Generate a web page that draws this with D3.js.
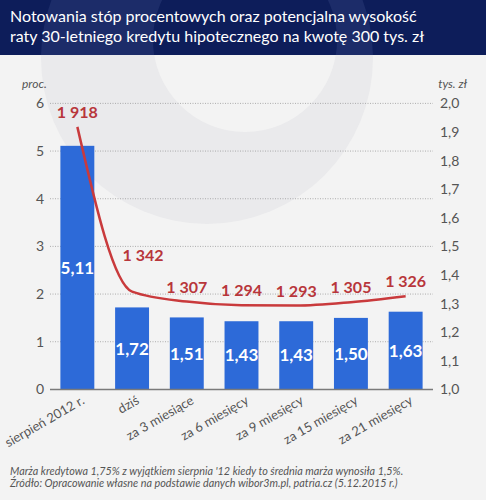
<!DOCTYPE html>
<html><head><meta charset="utf-8">
<script src="https://cdn.jsdelivr.net/npm/d3@7"></script>
<style>
body{margin:0;padding:0;background:#f3f3f3;}
svg{display:block;font-family:Lato, "Open Sans", sans-serif;}
</style></head>
<body>
<svg id="chart" width="486" height="500"></svg>
<script>
const categories = ["sierpień 2012 r.","dziś","za 3 miesiące","za 6 miesięcy","za 9 miesięcy","za 15 miesięcy","za 21 miesięcy"];
const rates = [5.11,1.72,1.51,1.43,1.43,1.50,1.63];
const rateLabels = ["5,11","1,72","1,51","1,43","1,43","1,50","1,63"];
const installments = [1918,1342,1307,1294,1293,1305,1326];
const installmentLabels = ["1 918","1 342","1 307","1 294","1 293","1 305","1 326"];
const leftTicks = [0,1,2,3,4,5,6];
const rightTicks = [1.0,1.1,1.2,1.3,1.4,1.5,1.6,1.7,1.8,1.9,2.0];
const titleLines = ["Notowania stóp procentowych oraz potencjalna wysokość","raty 30-letniego kredytu hipotecznego na kwotę 300 tys. zł"];
const notes = ["Marża kredytowa 1,75% z wyjątkiem sierpnia '12 kiedy to średnia marża wynosiła 1,5%.","Źródło: Opracowanie własne na podstawie danych wibor3m.pl, patria.cz (5.12.2015 r.)"];

(function(){
const svg = d3.select("#chart");
const W = 486, H = 500;
svg.append("rect").attr("width",W).attr("height",H).attr("fill","#f3f3f3");

// faint watermark
const wm = svg.append("g");
wm.append("circle").attr("cx",207).attr("cy",58).attr("r",166).attr("fill","#eaeaec");
wm.append("circle").attr("cx",245).attr("cy",40).attr("r",92).attr("fill","#f3f3f3");

// header
svg.append("rect").attr("width",W).attr("height",55).attr("fill","#0d1d5a");
svg.append("clipPath").attr("id","hc").append("rect").attr("width",W).attr("height",55);
const hw = svg.append("g").attr("clip-path","url(#hc)");
hw.append("circle").attr("cx",207).attr("cy",58).attr("r",166).attr("fill","#1c2c69");
hw.append("circle").attr("cx",245).attr("cy",40).attr("r",92).attr("fill","#0d1d5a");
svg.append("g").selectAll("text").data(titleLines).join("text")
  .attr("x",10).attr("y",(d,i)=>22+i*20)
  .attr("fill","#ffffff").attr("font-size",16).text(d=>d);

const pL = 50, pR = 433, pT = 103.4, pB = 389.4;
const x = d3.scaleBand().domain(categories).range([pL,pR]).paddingInner(0.38).paddingOuter(0.19);
const yL = d3.scaleLinear().domain([0,6]).range([pB,pT]);
const yR = d3.scaleLinear().domain([1.0,2.0]).range([pB,pT]);

// gridlines
svg.append("g").selectAll("line").data(leftTicks.filter(d=>d>0)).join("line")
  .attr("x1",pL).attr("x2",pR).attr("y1",d=>yL(d)).attr("y2",d=>yL(d))
  .attr("stroke","#9a9a9a").attr("stroke-width",0.8).attr("stroke-dasharray","1,1.5");

// left axis
const gL = svg.append("g").attr("transform",`translate(${pL},0)`)
  .call(d3.axisLeft(yL).tickValues(leftTicks).tickSize(0).tickPadding(6).tickFormat(d3.format("d")));
gL.select(".domain").remove();
gL.selectAll("text").attr("font-size",14).attr("fill","#555").attr("font-family","Lato");

// right axis
const gR = svg.append("g").attr("transform",`translate(${pR},0)`)
  .call(d3.axisRight(yR).tickValues(rightTicks).tickSize(0).tickPadding(7).tickFormat(d=>d3.format(".1f")(d).replace(".",",")));
gR.select(".domain").remove();
gR.selectAll("text").attr("font-size",14).attr("fill","#555").attr("font-family","Lato");

// axis unit labels
svg.append("text").attr("x",22).attr("y",88).attr("font-size",12).attr("font-style","italic").attr("fill","#555").text("proc.");
svg.append("text").attr("x",467).attr("y",88).attr("text-anchor","end").attr("font-size",12).attr("font-style","italic").attr("fill","#555").text("tys. zł");

// bars
svg.append("g").selectAll("rect").data(rates).join("rect")
  .attr("x",(d,i)=>x(categories[i])).attr("width",x.bandwidth())
  .attr("y",d=>yL(d)).attr("height",d=>yL(0)-yL(d))
  .attr("fill","#2d6ad8");

// baseline
svg.append("line").attr("x1",pL).attr("x2",pR).attr("y1",yL(0)).attr("y2",yL(0))
  .attr("stroke","#7a7a7a").attr("stroke-width",1.5);

// bar labels
svg.append("g").selectAll("text").data(rates).join("text")
  .attr("x",(d,i)=>x(categories[i])+x.bandwidth()/2)
  .attr("y",d=>yL(d/2)).attr("dy","0.36em")
  .attr("text-anchor","middle").attr("fill","#fff").attr("font-weight","bold").attr("font-size",17)
  .text((d,i)=>rateLabels[i]);

// line
const line = d3.line().x((d,i)=>x(categories[i])+x.bandwidth()/2).y(d=>yR(d/1000)).curve(d3.curveMonotoneX);
svg.append("path").datum(installments).attr("d",line)
  .attr("fill","none").attr("stroke","#c93a3c").attr("stroke-width",2.5);

// line labels
svg.append("g").selectAll("text").data(installments).join("text")
  .attr("x",(d,i)=>x(categories[i])+x.bandwidth()/2 + (i===1?11:0))
  .attr("y",(d,i)=>yR(d/1000) - (i===1?31:9))
  .attr("text-anchor","middle").attr("fill","#b8363b").attr("font-weight","bold").attr("font-size",16)
  .text((d,i)=>installmentLabels[i]);

// x labels rotated
svg.append("g").selectAll("text").data(categories).join("text")
  .attr("transform",(d)=>`translate(${x(d)+x.bandwidth()/2+8},${403}) rotate(-30)`)
  .attr("text-anchor","end").attr("font-size",13).attr("fill","#555")
  .text(d=>d);

// notes
svg.append("g").selectAll("text").data(notes).join("text")
  .attr("x",10).attr("y",(d,i)=>475+i*11.5)
  .attr("font-size",10.8).attr("font-style","italic").attr("fill","#555")
  .text(d=>d);
})();
</script>
</body></html>
